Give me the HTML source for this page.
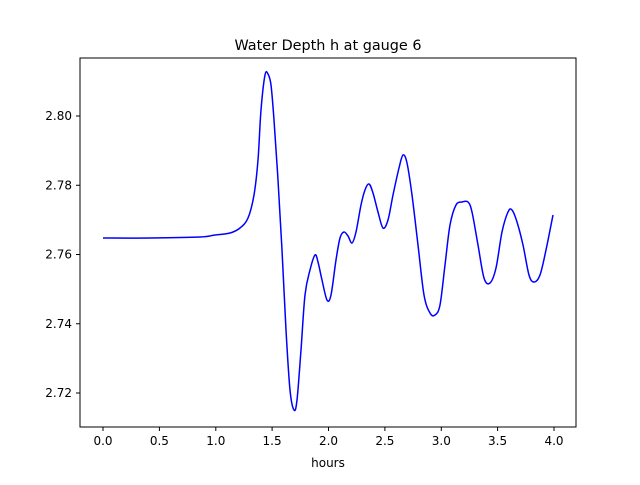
<!DOCTYPE html>
<html><head><meta charset="utf-8"><style>body{margin:0;background:#fff}</style></head><body>
<svg width="640" height="480" xmlns="http://www.w3.org/2000/svg" font-family="DejaVu Sans, sans-serif">
<rect width="640" height="480" fill="#fff"/>
<path id="curve" fill="none" stroke="#0000ff" stroke-width="1.5" stroke-linejoin="round" d=""/>
<rect x="80" y="58" width="496" height="369" fill="none" stroke="#000" stroke-width="1"/>
<g stroke="#000" stroke-width="1">
<line x1="103" y1="427" x2="103" y2="431"/><line x1="159.4" y1="427" x2="159.4" y2="431"/><line x1="215.8" y1="427" x2="215.8" y2="431"/><line x1="272.1" y1="427" x2="272.1" y2="431"/><line x1="328.5" y1="427" x2="328.5" y2="431"/><line x1="384.9" y1="427" x2="384.9" y2="431"/><line x1="441.3" y1="427" x2="441.3" y2="431"/><line x1="497.6" y1="427" x2="497.6" y2="431"/><line x1="554" y1="427" x2="554" y2="431"/>
<line x1="76" y1="116" x2="80" y2="116"/><line x1="76" y1="185.25" x2="80" y2="185.25"/><line x1="76" y1="254.5" x2="80" y2="254.5"/><line x1="76" y1="323.75" x2="80" y2="323.75"/><line x1="76" y1="393" x2="80" y2="393"/>
</g>
<g font-size="12" text-anchor="middle" fill="#000">
<text x="103" y="445">0.0</text><text x="159.4" y="445">0.5</text><text x="215.8" y="445">1.0</text><text x="272.1" y="445">1.5</text><text x="328.5" y="445">2.0</text><text x="384.9" y="445">2.5</text><text x="441.3" y="445">3.0</text><text x="497.6" y="445">3.5</text><text x="554" y="445">4.0</text>
<text x="328" y="467">hours</text>
</g>
<g font-size="12" text-anchor="end" fill="#000">
<text x="72" y="120">2.80</text><text x="72" y="189.5">2.78</text><text x="72" y="258.5">2.76</text><text x="72" y="328">2.74</text><text x="72" y="397">2.72</text>
</g>
<text x="328" y="50" font-size="14.4" text-anchor="middle">Water Depth h at gauge 6</text>
</svg>
<script>
var p=[103,238,150,238,200,237,215,235,230,233,240,228,248,218,254,195,258,160,261,110,265,75,268,74,271,85,274,120,278,180,282,250,286,330,290,390,294,410,297,400,301,350,305,295,310,270,315,255,318,262,322,280,327,300,331,295,336,260,340,238,344,232,348,236,352,243,356,232,361,205,365,190,369,184,373,193,378,212,383,228,388,220,393,195,399,168,403,155,407,163,412,195,418,245,424,295,430,313,435,315,440,305,445,265,450,225,456,205,462,202,468,202,472,212,478,245,484,278,490,283,496,268,502,232,508,212,512,210,517,222,523,245,529,275,534,282,540,275,546,250,553,215];
var pts=[];for(var i=0;i<p.length;i+=2)pts.push([p[i],p[i+1]]);
var d="M"+pts[0][0]+","+pts[0][1];
for(var i=0;i<pts.length-1;i++){var a=pts[Math.max(0,i-1)],b=pts[i],c=pts[i+1],e=pts[Math.min(pts.length-1,i+2)];
var c1x=b[0]+(c[0]-a[0])/6,c1y=b[1]+(c[1]-a[1])/6,c2x=c[0]-(e[0]-b[0])/6,c2y=c[1]-(e[1]-b[1])/6;
d+=" C"+c1x.toFixed(2)+","+c1y.toFixed(2)+" "+c2x.toFixed(2)+","+c2y.toFixed(2)+" "+c[0]+","+c[1];}
document.getElementById("curve").setAttribute("d",d);
</script>
</body></html>
